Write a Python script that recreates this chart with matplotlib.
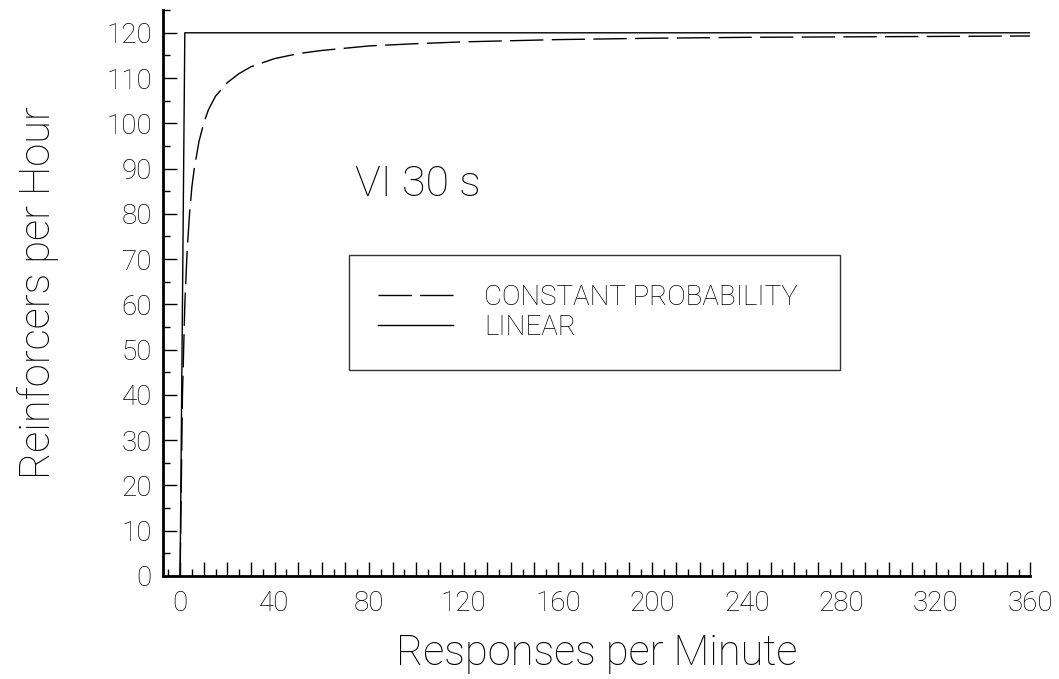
import numpy as np
import matplotlib.pyplot as plt
from matplotlib.ticker import MultipleLocator

# data
resp_rate = [0, 1, 2, 3, 4, 5, 6, 8, 10, 12, 15, 20, 25, 30, 40, 50, 60, 80,
             100, 120, 160, 200, 240, 280, 320, 360]
const_prob = [0, 40, 60, 72, 80, 86, 90, 96, 100, 103, 106, 109, 111, 112.5,
              114.3, 115.4, 116.1, 117.1, 117.6, 118, 118.5, 118.8, 119, 119.1,
              119.2, 119.3]
linear_x = [0, 2, 360]
linear_y = [0, 120, 120]
x_ticks = np.arange(0, 361, 10)
y_ticks = np.arange(0, 121, 10)

plt.rcParams['font.family'] = ['Roboto', 'DejaVu Sans']
plt.rcParams['font.weight'] = 'light'
plt.rcParams['axes.labelweight'] = 'light'

fig = plt.figure(figsize=(10.59, 6.79), dpi=100)
ax = fig.add_axes([0.154, 0.152, 0.819, 0.833])

ax.plot(resp_rate, const_prob, color="black", linewidth=1.0,
        dashes=(24, 6), label="CONSTANT PROBABILITY")
ax.plot(linear_x, linear_y, color="black", linewidth=1.0, label="LINEAR")

ax.set_xlim(-7.2, 360)
ax.set_ylim(0, 125)

ax.spines["top"].set_visible(False)
ax.spines["right"].set_visible(False)
ax.spines["left"].set_linewidth(2)
ax.spines["bottom"].set_linewidth(2)

ax.set_xticks(x_ticks)
ax.set_xticklabels([str(v) if v % 40 == 0 else "" for v in x_ticks])
ax.xaxis.set_minor_locator(MultipleLocator(5))
ax.set_yticks(y_ticks)
ax.yaxis.set_minor_locator(MultipleLocator(5))
ax.tick_params(which="major", direction="in", length=10, width=1, labelsize=20)
ax.tick_params(which="minor", direction="in", length=5, width=1)
ax.tick_params(axis="x", pad=10)
ax.tick_params(axis="y", pad=8)

ax.set_xlabel("Responses per Minute", fontsize=30, labelpad=12)
ax.set_ylabel("Reinforcers per Hour", fontsize=30, labelpad=34)

ax.text(74, 84, "VI 30 s", fontsize=31)

leg = ax.legend(loc="upper left", bbox_to_anchor=(0.2145, 0.3675, 0.566, 0.2),
                mode="expand", fontsize=20,
                frameon=True, fancybox=False, edgecolor="black",
                borderpad=1.05, handlelength=2.7, handletextpad=1.1,
                labelspacing=0.1, borderaxespad=0)
leg.get_frame().set_linewidth(1)

fig.savefig("out.png", dpi=100)
